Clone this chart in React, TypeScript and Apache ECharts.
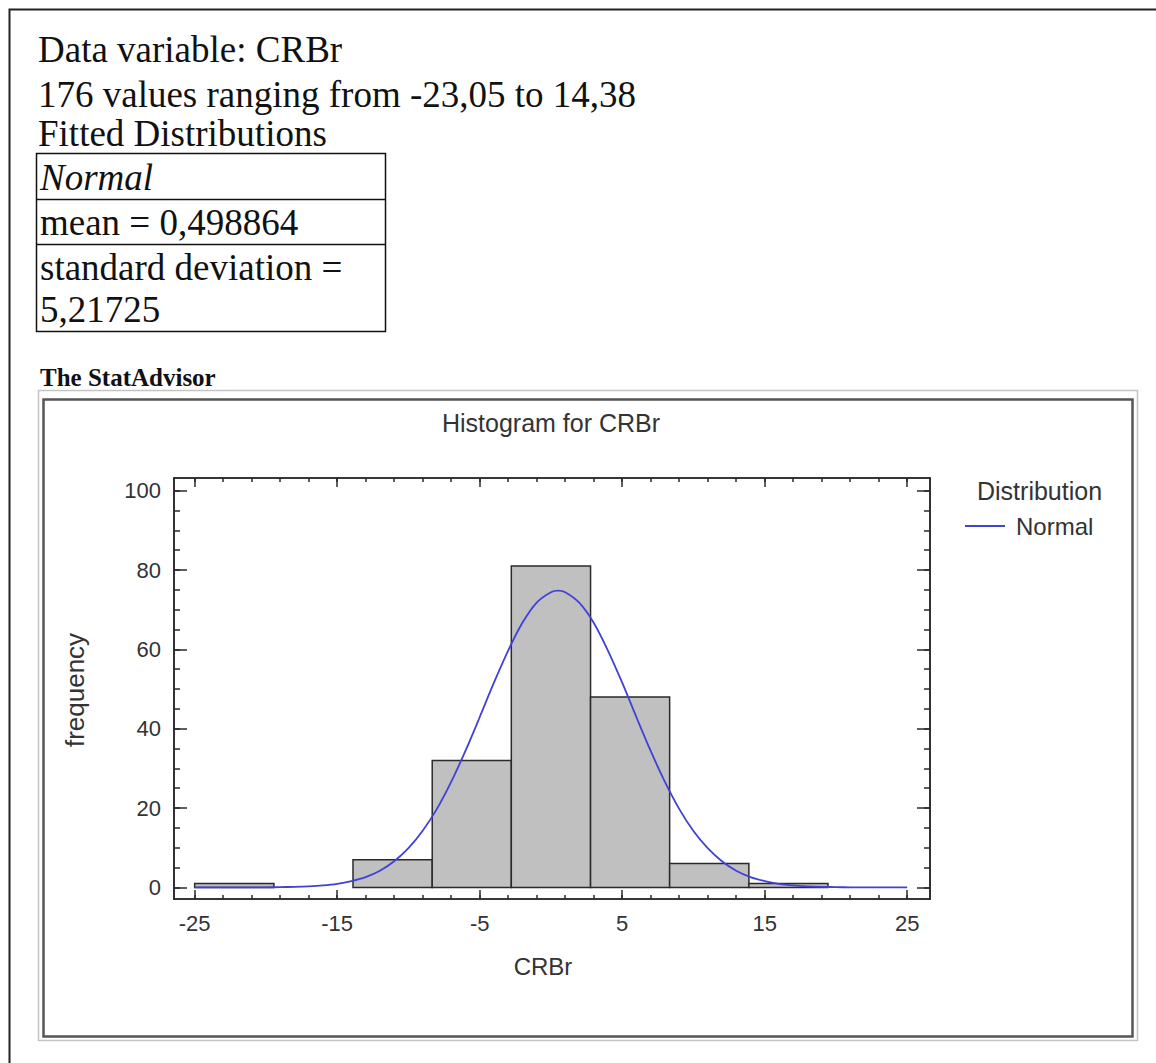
import React, { useEffect, useRef } from 'react';
import * as echarts from 'echarts';

// ---- Data ----
const binEdges = [-25, -19.44, -13.89, -8.33, -2.78, 2.78, 8.33, 13.89, 19.44, 25];
const binCounts = [1, 0, 7, 32, 81, 48, 6, 1, 0];

const curveX = [-25, -24, -23, -22, -21, -20, -19, -18, -17, -16, -15, -14, -13, -12, -11, -10, -9, -8, -7, -6, -5, -4, -3, -2, -1, 0, 0.5, 1, 2, 3, 4, 5, 6, 7, 8, 9, 10, 11, 12, 13, 14, 15, 16, 17, 18, 19, 20, 21, 22, 23, 24, 25];
const curveY = [0, 0, 0, 0.01, 0.02, 0.03, 0.07, 0.14, 0.27, 0.5, 0.9, 1.6, 2.6, 4.2, 6.6, 9.9, 14.3, 19.8, 26.6, 34.4, 42.9, 51.6, 59.7, 66.7, 71.8, 74.4, 74.8, 74.4, 71.7, 66.7, 59.7, 51.6, 42.9, 34.4, 26.6, 19.8, 14.2, 9.9, 6.6, 4.2, 2.6, 1.6, 0.9, 0.5, 0.27, 0.14, 0.07, 0.03, 0.02, 0.01, 0, 0];

const xMajorTicks = [-25, -15, -5, 5, 15, 25];
const xMinorTicks = [-25, -23, -21, -19, -17, -15, -13, -11, -9, -7, -5, -3, -1, 1, 3, 5, 7, 9, 11, 13, 15, 17, 19, 21, 23, 25];
const yMajorTicks = [0, 20, 40, 60, 80, 100];
const yMinorTicks = [0, 5, 10, 15, 20, 25, 30, 35, 40, 45, 50, 55, 60, 65, 70, 75, 80, 85, 90, 95, 100];

const headerLines = ['Data variable: CRBr', '176 values ranging from -23,05 to 14,38', 'Fitted Distributions'];
const tableRows = ['Normal', 'mean = 0,498864', 'standard deviation =', '5,21725'];
const advisorLabel = 'The StatAdvisor';
const chartTitle = 'Histogram for CRBr';
const xName = 'CRBr';
const yName = 'frequency';
const legendTitle = 'Distribution';
const seriesName = 'Normal';

// ---- Layout ----
const X_MIN = -26.45;
const X_MAX = 26.6;
const Y_MIN = -2.92;
const Y_MAX = 103.2;
const SANS = '"Liberation Sans", Arial, sans-serif';
const SERIF = '"Liberation Serif", "Times New Roman", serif';
const AXIS_COLOR = '#2a2a2a';
const LABEL_SIZE = 22;

function xAx(pos: string, ticks: number[], len: number, labels: boolean) {
  return {
    type: 'value', position: pos, min: X_MIN, max: X_MAX, gridIndex: 0,
    axisLine: { show: true, onZero: false, lineStyle: { color: AXIS_COLOR, width: 1.6 } },
    axisTick: { show: true, inside: true, length: len, customValues: ticks, lineStyle: { color: AXIS_COLOR, width: 1.5 } },
    axisLabel: labels
      ? { show: true, customValues: ticks, margin: 13, fontSize: LABEL_SIZE, color: '#333', fontFamily: SANS }
      : { show: false },
    splitLine: { show: false },
  };
}
function yAx(pos: string, ticks: number[], len: number, labels: boolean) {
  return {
    type: 'value', position: pos, min: Y_MIN, max: Y_MAX, gridIndex: 0,
    axisLine: { show: true, onZero: false, lineStyle: { color: AXIS_COLOR, width: 1.6 } },
    axisTick: { show: true, inside: true, length: len, customValues: ticks, lineStyle: { color: AXIS_COLOR, width: 1.5 } },
    axisLabel: labels
      ? { show: true, customValues: ticks, margin: 13, fontSize: LABEL_SIZE, color: '#333', fontFamily: SANS }
      : { show: false },
    splitLine: { show: false },
  };
}

export default function App() {
  const ref = useRef<HTMLDivElement>(null);
  useEffect(() => {
    if (!ref.current) return;
    const chart = echarts.init(ref.current, undefined, { renderer: 'svg' });
    const headerY = [49, 94, 133];
    const rowY = [177, 222, 267, 309];
    const graphic: any[] = [
      // outer page border
      { type: 'polyline', shape: { points: [[9.5, 1063], [9.5, 9.5], [1156, 9.5]] }, style: { stroke: '#222', lineWidth: 2, fill: null } },
      ...headerLines.map((t, i) => ({
        type: 'text', x: 38, y: headerY[i],
        style: { text: t, font: `37px ${SERIF}`, fill: '#111', verticalAlign: 'middle', align: 'left' },
      })),
      // table
      { type: 'rect', shape: { x: 36.5, y: 153.5, width: 349, height: 178 }, style: { stroke: '#111', lineWidth: 1.5, fill: null } },
      { type: 'line', shape: { x1: 36.5, y1: 199.5, x2: 385.5, y2: 199.5 }, style: { stroke: '#111', lineWidth: 1.5 } },
      { type: 'line', shape: { x1: 36.5, y1: 244.5, x2: 385.5, y2: 244.5 }, style: { stroke: '#111', lineWidth: 1.5 } },
      ...tableRows.map((t, i) => ({
        type: 'text', x: 40, y: rowY[i],
        style: { text: t, font: `${i === 0 ? 'italic ' : ''}37px ${SERIF}`, fill: '#111', verticalAlign: 'middle', align: 'left' },
      })),
      { type: 'text', x: 40, y: 377, style: { text: advisorLabel, font: `bold 25px ${SERIF}`, fill: '#111', verticalAlign: 'middle' } },
      // chart frames
      { type: 'rect', shape: { x: 38.5, y: 390.5, width: 1099, height: 650 }, style: { stroke: '#c4c4c4', lineWidth: 1.5, fill: null } },
      { type: 'rect', shape: { x: 43.5, y: 399.5, width: 1089, height: 637 }, style: { stroke: '#555', lineWidth: 2.5, fill: '#fff' }, z: -1 },
      // chart texts
      { type: 'text', x: 551, y: 423, style: { text: chartTitle, font: `25px ${SANS}`, fill: '#333', align: 'center', verticalAlign: 'middle' } },
      { type: 'text', x: 543, y: 966, style: { text: xName, font: `24px ${SANS}`, fill: '#333', align: 'center', verticalAlign: 'middle' } },
      { type: 'text', x: 75, y: 690, rotation: Math.PI / 2, style: { text: yName, font: `26px ${SANS}`, fill: '#333', align: 'center', verticalAlign: 'middle' } },
      { type: 'text', x: 977, y: 491, style: { text: legendTitle, font: `25px ${SANS}`, fill: '#333', align: 'left', verticalAlign: 'middle' } },
    ];

    chart.setOption({
      animation: false,
      backgroundColor: '#fff',
      grid: { left: 174, top: 478, width: 756, height: 421, containLabel: false },
      xAxis: [
        xAx('bottom', xMajorTicks, 9, true),
        xAx('bottom', xMinorTicks, 4, false),
        xAx('top', xMajorTicks, 9, false),
        xAx('top', xMinorTicks, 4, false),
      ],
      yAxis: [
        yAx('left', yMajorTicks, 13, true),
        yAx('left', yMinorTicks, 6, false),
        yAx('right', yMajorTicks, 13, false),
        yAx('right', yMinorTicks, 6, false),
      ],
      legend: {
        data: [{ name: seriesName, icon: 'rect' }], left: 960, top: 509, itemWidth: 40, itemHeight: 2, itemGap: 8,
        textStyle: { fontSize: 24, color: '#333', fontFamily: SANS, padding: [0, 0, 0, 6] },
      },
      graphic,
      series: [
        {
          type: 'custom', name: 'bins', xAxisIndex: 0, yAxisIndex: 0, z: 2,
          data: binCounts.map((c, i) => [binEdges[i], binEdges[i + 1], c]),
          encode: { x: [0, 1], y: 2 },
          renderItem: (params: any, api: any) => {
            const c = api.value(2);
            if (!c) return null;
            const p0 = api.coord([api.value(0), c]);
            const p1 = api.coord([api.value(1), 0]);
            return {
              type: 'rect',
              shape: { x: p0[0], y: p0[1], width: p1[0] - p0[0], height: p1[1] - p0[1] },
              style: { fill: '#c0c0c0', stroke: '#2a2a2a', lineWidth: 1.5 },
            };
          },
        },
        {
          type: 'line', name: seriesName, xAxisIndex: 0, yAxisIndex: 0, z: 3,
          data: curveX.map((x, i) => [x, curveY[i]]),
          showSymbol: false, symbol: 'none', smooth: 0.3,
          lineStyle: { color: '#4141d8', width: 1.8 }, itemStyle: { color: '#4141d8' },
        },
      ],
    });
    return () => chart.dispose();
  }, []);
  return <div ref={ref} style={{ position: 'absolute', left: 0, top: 0, width: 1156, height: 1063, background: '#fff' }} />;
}
